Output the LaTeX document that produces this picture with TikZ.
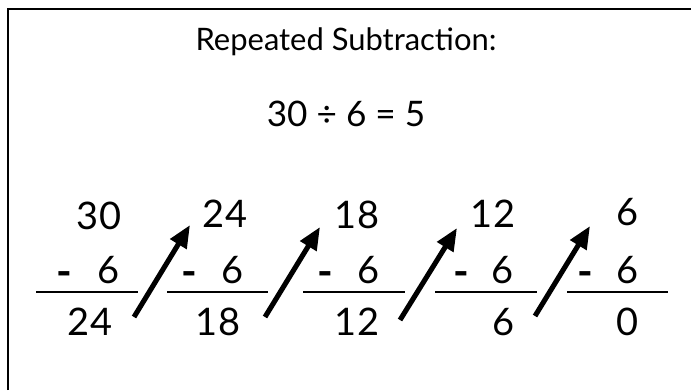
\documentclass[tikz,border=0pt]{standalone}
\usepackage{fontspec}
\setmainfont{Lato}
\usetikzlibrary{arrows.meta}

\begin{document}
\begin{tikzpicture}[x=0.025cm, y=-0.025cm,
    every node/.style={inner sep=0pt, font=\fontsize{27}{31}\selectfont},
    dash sign/.style={anchor=base, font=\fontsize{30}{34}\selectfont\bfseries},
    bar/.style={line width=1pt},
    jump/.style={line width=3.6pt, -{Triangle[length=16pt, width=13pt]}}]
    \useasboundingbox (0,0) rectangle (691,390);

    % frame (only top and left edges show)
    \draw[line width=1.5pt] (8,390) -- (8,9) -- (691,9);

    % heading
    \node[font=\fontsize{22}{26}\selectfont] (title) at (346,42) {Repeated Subtraction:};
    \node[font=\fontsize{25}{30}\selectfont] (eq) at (346,114) {30 ÷ 6 = 5};

    % top numbers
    \node (t1) at (99,216) {30};
    \node (t2) at (225,214) {24};
    \node (t3) at (357,215) {18};
    \node (t4) at (493,214) {12};
    \node (t5) at (628,212) {6};

    % minus rows
    \node[dash sign] (m1) at (64,286) {-};
    \node (s1) at (109,270) {6};
    \node[dash sign] (m2) at (189,286) {-};
    \node (s2) at (233,270) {6};
    \node[dash sign] (m3) at (325,286) {-};
    \node (s3) at (369,270) {6};
    \node[dash sign] (m4) at (461,286) {-};
    \node (s4) at (503,270) {6};
    \node[dash sign] (m5) at (585,286) {-};
    \node (s5) at (628,270) {6};

    % bars
    \draw[bar] (36,292) -- (138,292);
    \draw[bar] (167,292) -- (268,292);
    \draw[bar] (303,292) -- (405,292);
    \draw[bar] (435,292) -- (537,292);
    \draw[bar] (567,292) -- (668,292);

    % results
    \node (b1) at (90,322) {24};
    \node (b2) at (218,322) {18};
    \node (b3) at (357,322) {12};
    \node (b4) at (504,322) {6};
    \node (b5) at (628,322) {0};

    % arrows
    \coordinate (f1) at (134,317);
    \coordinate (g1) at (190,225);
    \coordinate (f2) at (265,317);
    \coordinate (g2) at (320,227);
    \coordinate (f3) at (400,320);
    \coordinate (g3) at (457,228);
    \coordinate (f4) at (535,316);
    \coordinate (g4) at (590,226);
    \draw[jump] (f1) -- (g1);
    \draw[jump] (f2) -- (g2);
    \draw[jump] (f3) -- (g3);
    \draw[jump] (f4) -- (g4);
\end{tikzpicture}
\end{document}
